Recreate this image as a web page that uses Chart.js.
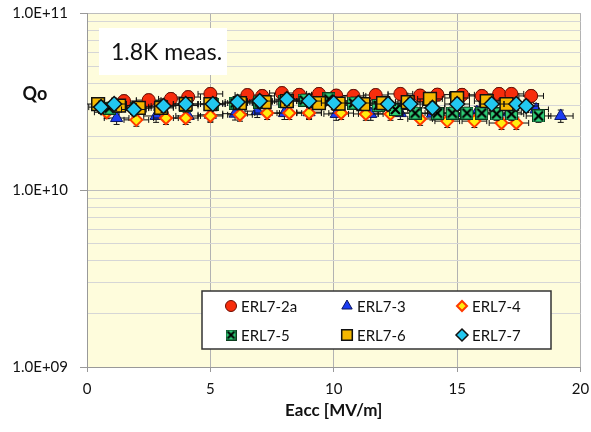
<!DOCTYPE html>
<html>
<head>
<meta charset="utf-8">
<script src="https://cdn.jsdelivr.net/npm/chart.js@4.4.0/dist/chart.umd.min.js"></script>
<style>
  body { margin: 0; background: #fff; }
  #wrap { width: 591px; height: 432px; }
</style>
</head>
<body>
<div id="wrap"><canvas id="qoChart" width="591" height="432"></canvas></div>
<script>
// series names (legend order)
const seriesNames = ["ERL7-2a", "ERL7-3", "ERL7-4", "ERL7-5", "ERL7-6", "ERL7-7"];

// Eacc [MV/m] and Qo
const erl2aE = [1.5, 2.5, 3.4, 4.1, 5.0, 6.5, 7.1, 7.9, 8.6, 9.4, 10.1, 10.8, 11.7, 12.7, 13.5, 14.2, 15.2, 16.0, 16.7, 17.2, 18.0];
const erl2aQ = [3.18e10, 3.22e10, 3.27e10, 3.35e10, 3.49e10, 3.44e10, 3.40e10, 3.53e10, 3.45e10, 3.49e10, 3.42e10, 3.40e10, 3.44e10, 3.49e10, 3.42e10, 3.46e10, 3.45e10, 3.40e10, 3.49e10, 3.49e10, 3.40e10];

const erl3E = [1.2, 2.8, 4.1, 5.0, 6.0, 6.9, 8.0, 9.0, 10.1, 11.5, 12.7, 14.0, 14.9, 15.8, 17.1, 18.2, 19.2];
const erl3Q = [2.55e10, 2.62e10, 2.62e10, 2.66e10, 2.70e10, 2.79e10, 2.72e10, 2.75e10, 2.69e10, 2.69e10, 2.72e10, 2.70e10, 2.72e10, 2.75e10, 2.75e10, 2.85e10, 2.62e10];

const erl4E = [0.8, 2.0, 3.2, 4.0, 5.0, 6.2, 7.3, 8.2, 9.0, 10.3, 11.3, 12.3, 13.5, 14.6, 15.7, 16.8, 17.4];
const erl4Q = [2.75e10, 2.49e10, 2.55e10, 2.55e10, 2.62e10, 2.66e10, 2.72e10, 2.72e10, 2.72e10, 2.72e10, 2.69e10, 2.69e10, 2.52e10, 2.45e10, 2.45e10, 2.39e10, 2.39e10];

const erl5E = [0.9, 2.0, 3.0, 4.0, 5.1, 6.0, 7.0, 8.0, 8.8, 9.8, 10.8, 11.8, 12.5, 13.3, 14.2, 14.8, 15.4, 16.0, 16.6, 17.2, 18.3];
const erl5Q = [2.90e10, 2.90e10, 2.95e10, 3.00e10, 3.06e10, 3.10e10, 3.14e10, 3.18e10, 3.22e10, 3.27e10, 3.10e10, 3.00e10, 2.85e10, 2.72e10, 2.72e10, 2.72e10, 2.72e10, 2.72e10, 2.69e10, 2.69e10, 2.62e10];

const erl6E = [0.45, 1.3, 2.1, 3.0, 4.0, 5.0, 6.2, 7.2, 8.1, 9.4, 10.2, 11.2, 12.0, 13.0, 13.9, 15.0, 16.2, 17.0];
const erl6Q = [3.06e10, 3.00e10, 2.91e10, 2.91e10, 3.06e10, 3.06e10, 3.10e10, 3.14e10, 3.18e10, 3.10e10, 3.08e10, 3.06e10, 3.10e10, 3.14e10, 3.27e10, 3.31e10, 3.18e10, 3.06e10];

const erl7E = [0.57, 1.1, 1.9, 3.1, 4.0, 5.1, 6.1, 7.0, 8.1, 9.0, 10.0, 11.0, 12.2, 13.1, 14.0, 15.0, 16.4, 17.4, 17.8];
const erl7Q = [2.94e10, 3.06e10, 2.85e10, 2.98e10, 3.06e10, 3.06e10, 3.14e10, 3.18e10, 3.26e10, 3.18e10, 3.10e10, 3.10e10, 3.06e10, 3.06e10, 2.91e10, 3.06e10, 3.06e10, 3.06e10, 2.98e10];

const xTicks = [0, 5, 10, 15, 20];

// error bar half widths
const errE = 0.5;      // MV/m
const errQ = 0.08;     // relative

function pts(e, q) { return e.map((v, i) => ({ x: v, y: q[i] })); }

// green box with a black cross, like the spreadsheet marker
function crossBox(size) {
  const c = document.createElement('canvas');
  c.width = size; c.height = size;
  const g = c.getContext('2d');
  g.fillStyle = '#2fcf78';
  g.fillRect(0.5, 0.5, size - 1, size - 1);
  g.strokeStyle = '#0b3d1e';
  g.lineWidth = 1;
  g.strokeRect(0.5, 0.5, size - 1, size - 1);
  g.strokeStyle = '#000';
  g.lineWidth = 2.2;
  g.beginPath();
  g.moveTo(2, 2); g.lineTo(size - 2, size - 2);
  g.moveTo(size - 2, 2); g.lineTo(2, size - 2);
  g.stroke();
  return c;
}

const styles = [
  { pointStyle: 'circle', radius: 6.5, bg: '#f72d0c', border: '#6a0a00', bw: 1 },
  { pointStyle: 'triangle', radius: 7, bg: '#1b3cf2', border: '#0a1460', bw: 1 },
  { pointStyle: 'rectRot', radius: 6, bg: '#ffee10', border: '#ff3a00', bw: 2 },
  { pointStyle: crossBox(13), radius: 7, bg: '#2fcf78', border: '#000', bw: 1 },
  { pointStyle: 'rect', radius: 9, bg: '#f5b800', border: '#111', bw: 1.5 },
  { pointStyle: 'rectRot', radius: 7.5, bg: '#22c8f0', border: '#111', bw: 1.5 }
];
const legendStyles = [
  { pointStyle: 'circle', radius: 5.5 },
  { pointStyle: 'triangle', radius: 6 },
  { pointStyle: 'rectRot', radius: 5 },
  { pointStyle: crossBox(11), radius: 6 },
  { pointStyle: 'rect', radius: 7.5 },
  { pointStyle: 'rectRot', radius: 6 }
];

const allData = [pts(erl2aE, erl2aQ), pts(erl3E, erl3Q), pts(erl4E, erl4Q),
                 pts(erl5E, erl5Q), pts(erl6E, erl6Q), pts(erl7E, erl7Q)];

const datasets = seriesNames.map((name, i) => ({
  label: name,
  data: allData[i],
  showLine: false,
  order: seriesNames.length - i,
  pointStyle: styles[i].pointStyle,
  pointRadius: styles[i].radius,
  pointBackgroundColor: styles[i].bg,
  pointBorderColor: styles[i].border,
  pointBorderWidth: styles[i].bw
}));

function isDecade(v) {
  const l = Math.log10(v);
  return Math.abs(l - Math.round(l)) < 1e-6;
}
function sciLabel(v) {
  const e = Math.round(Math.log10(v));
  return '1.0E+' + String(e).padStart(2, '0');
}

const plotBg = {
  id: 'plotBg',
  beforeDraw(chart) {
    const a = chart.chartArea, ctx = chart.ctx;
    ctx.save();
    ctx.fillStyle = '#fefcdc';
    ctx.fillRect(a.left, a.top, a.right - a.left, a.bottom - a.top);
    ctx.restore();
  }
};

const errorBars = {
  id: 'errorBars',
  beforeDatasetDraw(chart, args) {
    const ds = chart.data.datasets[args.index];
    const xs = chart.scales.x, ys = chart.scales.y, ctx = chart.ctx;
    const a = chart.chartArea;
    ctx.save();
    ctx.beginPath();
    ctx.rect(a.left, a.top, a.right - a.left, a.bottom - a.top);
    ctx.clip();
    ctx.strokeStyle = '#111';
    ctx.lineWidth = 1;
    ctx.beginPath();
    ds.data.forEach(p => {
      const px = xs.getPixelForValue(p.x), py = ys.getPixelForValue(p.y);
      const x0 = xs.getPixelForValue(p.x - errE), x1 = xs.getPixelForValue(p.x + errE);
      const y0 = ys.getPixelForValue(p.y * (1 - errQ)), y1 = ys.getPixelForValue(p.y * (1 + errQ));
      ctx.moveTo(x0, py); ctx.lineTo(x1, py);
      ctx.moveTo(x0, py - 3); ctx.lineTo(x0, py + 3);
      ctx.moveTo(x1, py - 3); ctx.lineTo(x1, py + 3);
      ctx.moveTo(px, y0); ctx.lineTo(px, y1);
      ctx.moveTo(px - 3, y0); ctx.lineTo(px + 3, y0);
      ctx.moveTo(px - 3, y1); ctx.lineTo(px + 3, y1);
    });
    ctx.stroke();
    ctx.restore();
  }
};

const annotations = {
  id: 'annotations',
  afterDraw(chart) {
    const ctx = chart.ctx, a = chart.chartArea;
    ctx.save();
    // "1.8K meas." box
    ctx.fillStyle = '#fff';
    ctx.fillRect(a.left + 12, a.top + 15, 128, 47);
    ctx.fillStyle = '#111';
    ctx.font = '23px Lato';
    ctx.textBaseline = 'middle';
    ctx.textAlign = 'left';
    ctx.fillText('1.8K meas.', a.left + 24, a.top + 40);
    // Qo label
    ctx.font = 'bold 18px Lato';
    ctx.textAlign = 'center';
    ctx.fillText('Qo', 35, 94);
    // legend box
    const lx = a.left + 115, ly = a.top + 278, lw = 349, lh = 58;
    ctx.fillStyle = '#fff';
    ctx.fillRect(lx, ly, lw, lh);
    ctx.strokeStyle = '#333';
    ctx.lineWidth = 1.5;
    ctx.strokeRect(lx, ly, lw, lh);
    const colX = [lx + 29, lx + 145, lx + 260];
    const rowY = [ly + 15, ly + 44];
    ctx.font = '15px Lato';
    ctx.textAlign = 'left';
    chart.data.datasets.forEach((ds, i) => {
      const mx = colX[i % 3], my = rowY[Math.floor(i / 3)];
      ctx.fillStyle = styles[i].bg;
      ctx.strokeStyle = styles[i].border;
      ctx.lineWidth = styles[i].bw;
      Chart.helpers.drawPoint(ctx, {
        pointStyle: legendStyles[i].pointStyle,
        radius: legendStyles[i].radius,
        rotation: 0,
        borderWidth: styles[i].bw
      }, mx, my);
      ctx.fillStyle = '#111';
      ctx.fillText(ds.label, mx + 10, my + 1);
    });
    ctx.restore();
  }
};

const config = {
  type: 'scatter',
  data: { datasets: datasets },
  options: {
    responsive: false,
    animation: false,
    events: [],
    layout: { padding: { top: 13, right: 10, left: 0, bottom: 0 } },
    plugins: {
      legend: { display: false },
      tooltip: { enabled: false }
    },
    scales: {
      x: {
        type: 'linear',
        min: 0,
        max: 20,
        afterBuildTicks: s => { s.ticks = xTicks.map(v => ({ value: v })); },
        afterFit: s => { s.height = 65; s.paddingLeft = 0; s.paddingRight = 0; },
        ticks: { color: '#111', font: { family: 'Lato', size: 15 }, padding: 8, maxRotation: 0 },
        grid: { color: '#b2b2b2', lineWidth: 1, tickLength: 5, tickColor: '#999' },
        border: { color: '#999' },
        title: {
          display: true,
          text: 'Eacc [MV/m]',
          color: '#111',
          font: { family: 'Lato', size: 17, weight: 'bold' },
          padding: { top: 0, bottom: 11 }
        }
      },
      y: {
        type: 'logarithmic',
        min: 1e9,
        max: 1e11,
        afterFit: s => { s.width = 87; s.paddingTop = 0; s.paddingBottom = 0; },
        ticks: {
          autoSkip: false,
          color: '#111',
          font: { family: 'Lato', size: 15 },
          padding: 12,
          callback: v => isDecade(v) ? sciLabel(v) : ''
        },
        grid: {
          color: ctx => (ctx.tick && isDecade(ctx.tick.value)) ? '#bdbdbd' : '#d6d6d6',
          tickLength: 7,
          tickColor: ctx => (ctx.tick && isDecade(ctx.tick.value)) ? '#999' : 'rgba(0,0,0,0)'
        },
        border: { color: '#999' }
      }
    }
  },
  plugins: [plotBg, errorBars, annotations]
};

const qoChart = new Chart(document.getElementById('qoChart'), config);
</script>
</body>
</html>
